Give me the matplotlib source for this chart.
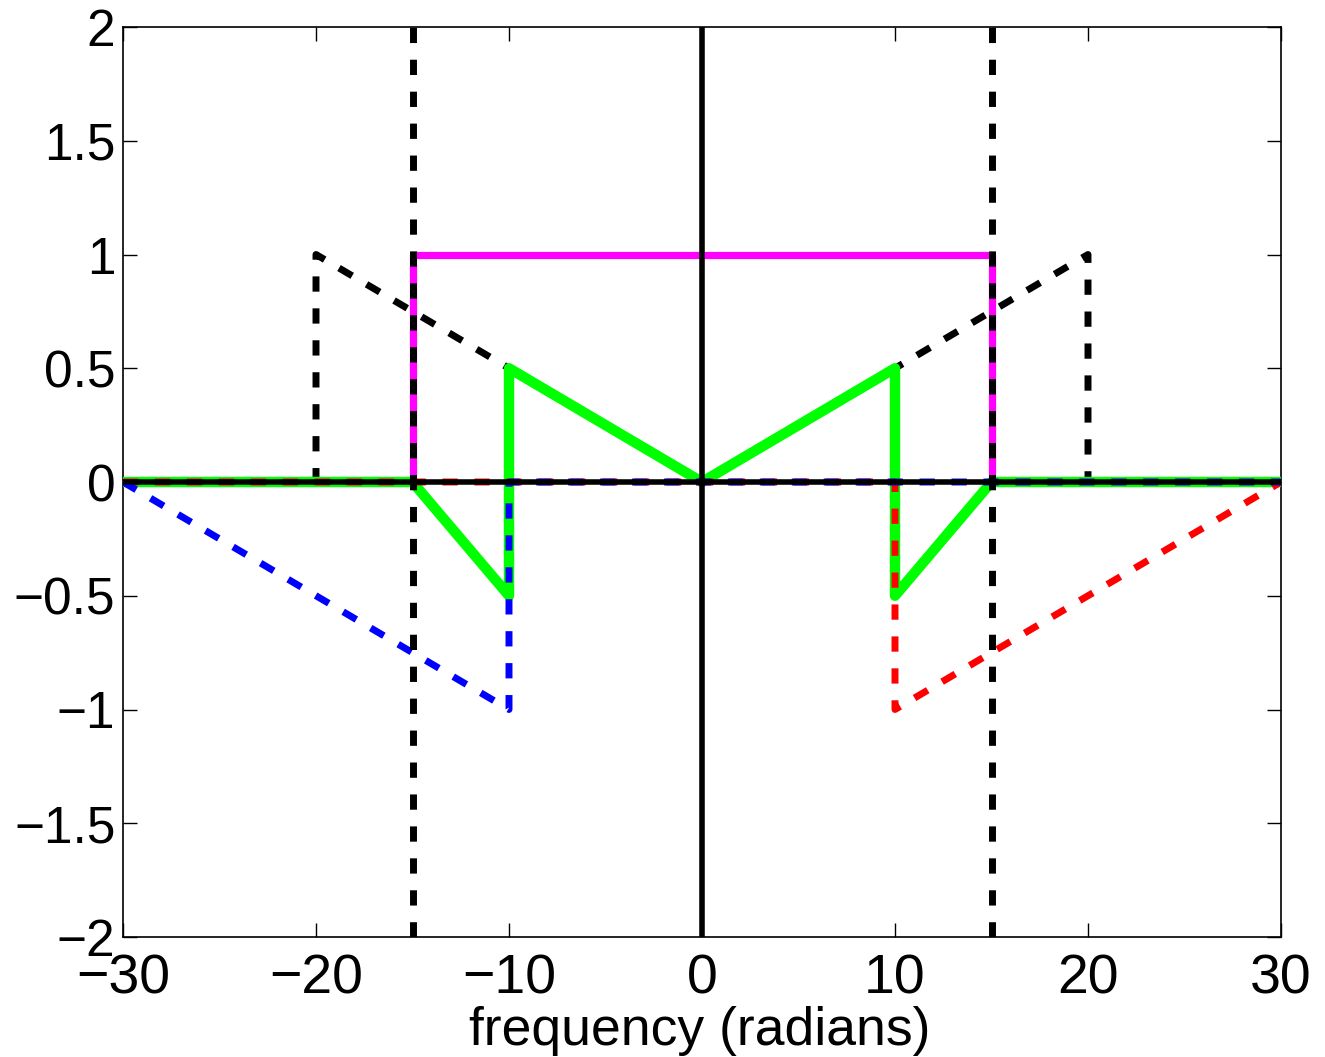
import matplotlib
matplotlib.use("Agg")
import matplotlib.pyplot as plt
from matplotlib import font_manager

plt.rcParams['font.family'] = ['Liberation Sans', 'DejaVu Sans']
_names = {f.name for f in font_manager.fontManager.ttflist}
HAS_NARROW = 'Liberation Sans Narrow' in _names

# data
tri_x = [-30, -20, -20, 0, 20, 20, 30]
tri_y = [0, 0, 1, 0, 1, 0, 0]
rect_x = [-15, -15, 15, 15]
rect_y = [0, 1, 1, 0]
prod_x = [-30, -15, -10, -10, 0, 10, 10, 15, 30]
prod_y = [0, 0, -0.5, 0.5, 0, 0.5, -0.5, 0, 0]
blue_x = [-30, -10, -10, 30]
blue_y = [0, -1, 0, 0]
red_x = [-30, 10, 10, 30]
red_y = [0, 0, -1, 0]
cut_x = [-15, 15]
xticks = [-30, -20, -10, 0, 10, 20, 30]
yticks = [-2, -1.5, -1, -0.5, 0, 0.5, 1, 1.5, 2]
ytick_labels = ['\u22122', '\u22121.5', '\u22121', '\u22120.5', '0', '0.5', '1', '1.5', '2']
xtick_labels = ['\u221230', '\u221220', '\u221210', '0', '10', '20', '30']

fig = plt.figure(figsize=(13.25, 10.57), dpi=100)
ax = fig.add_axes([123/1325, 1-937/1057, (1281-123)/1325, (937-27)/1057])

dash = (2.2, 2.4)
ax.plot(tri_x, tri_y, color='black', lw=5, dashes=dash, zorder=2)
ax.plot(rect_x, rect_y, color='#ff00ff', lw=5.2, zorder=3)
ax.plot(prod_x, prod_y, color='#00ff00', lw=7.5, zorder=4)
ax.plot(red_x, red_y, color='red', lw=5, dashes=dash, zorder=5)
ax.plot(blue_x, blue_y, color='blue', lw=5, dashes=dash, zorder=5)
for cx in cut_x:
    ax.plot([cx, cx], [-2, 2], color='black', lw=5, dashes=dash, zorder=6)
ax.axhline(0, color='black', lw=4, zorder=7)
ax.axvline(0, color='black', lw=4, zorder=7)

ax.set_xlim(-30, 30)
ax.set_ylim(-2, 2)
ax.set_xticks(xticks)
ax.set_yticks(yticks)
ax.set_yticklabels(ytick_labels)
if HAS_NARROW:
    ax.set_xticklabels(xtick_labels, family=['Liberation Sans Narrow', 'Liberation Sans'], fontsize=45)
else:
    ax.set_xticklabels(xtick_labels, fontsize=40)
ax.tick_params(direction='in', length=10, width=1, top=True, right=True)
ax.tick_params(axis='y', labelsize=37, pad=5.5)
ax.tick_params(axis='x', pad=12)
for s in ax.spines.values():
    s.set_linewidth(1.2)
ax.set_xlabel('frequency (radians)', fontsize=38.5, va='baseline')
ax.xaxis.set_label_coords(0.498, -0.1187)

fig.savefig('out.png', dpi=100)
